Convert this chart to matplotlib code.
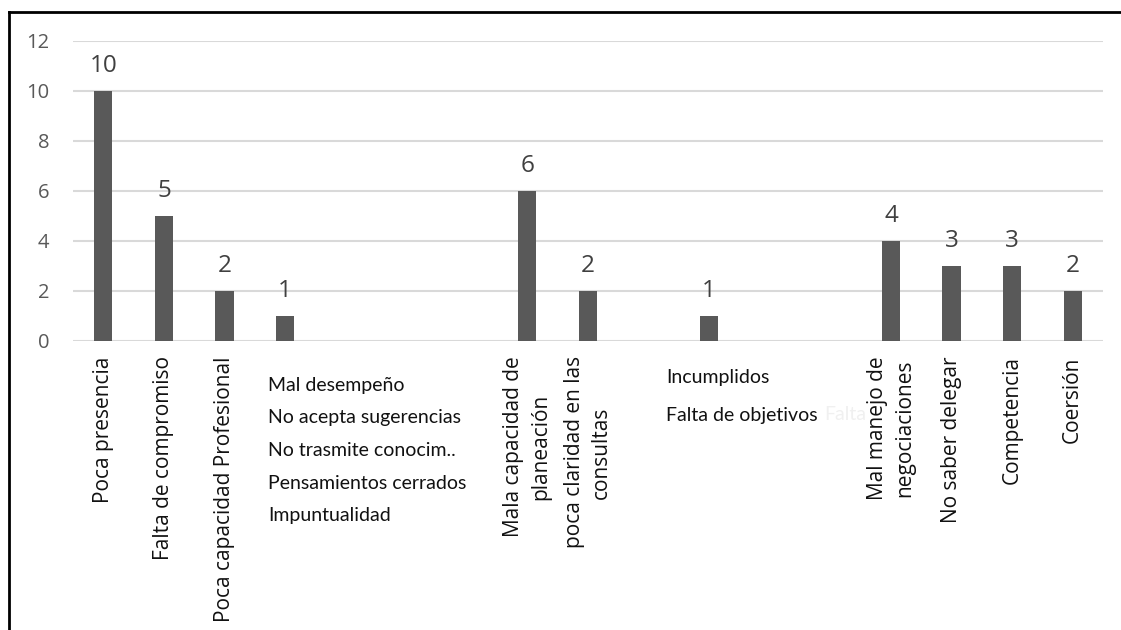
import matplotlib
matplotlib.use("Agg")
import matplotlib.pyplot as plt
from matplotlib.lines import Line2D
import numpy as np

# categorías del eje x (las vacías llevan su texto aparte, en horizontal)
categorias = ["Poca presencia", "Falta de compromiso", "Poca capacidad Profesional",
              "", "", "", "",
              "Mala capacidad de\nplaneación", "poca claridad en las\nconsultas",
              "", "", "", "",
              "Mal manejo de\nnegociaciones", "No saber delegar", "Competencia", "Coersión"]
valores = [10, 5, 2, 1, 0, 0, 0, 6, 2, 0, 1, 0, 0, 4, 3, 3, 2]
bloque_1 = ["Mal desempeño", "No acepta sugerencias", "No trasmite conocim..",
            "Pensamientos cerrados", "Impuntualidad"]
bloque_2 = ["Incumplidos", "Falta de objetivos"]
y_ticks = [0, 2, 4, 6, 8, 10, 12]

fuente = ["Open Sans", "DejaVu Sans"]
fuente_estrecha = ["Lato", "DejaVu Sans"]

fig = plt.figure(figsize=(11.21, 6.30), dpi=100)
ax = fig.add_axes([73 / 1121, 1 - 341 / 630, 1030 / 1121, 300.5 / 630])

x = np.arange(len(categorias))
ax.bar(x, valores, width=0.3, color="#595959", zorder=3)

for xi, v in zip(x, valores):
    if v > 0:
        ax.annotate(str(v), (xi, v), xytext=(0, 9), textcoords="offset points",
                    ha="center", va="bottom", fontsize=17.5, color="#404040",
                    family=fuente)

ax.set_xlim(-0.5, len(categorias) - 0.5)
ax.set_ylim(0, 12)
ax.set_yticks(y_ticks)
ax.set_yticklabels([str(t) for t in y_ticks], fontsize=14.5, color="#595959",
                   family=fuente)
ax.set_xticks(x)
ax.set_xticklabels(categorias, rotation=90, fontsize=15, color="#111111",
                   family=fuente, va="top", ha="center",
                   multialignment="center", linespacing=1.4)
ax.tick_params(axis="both", length=0)
ax.tick_params(axis="y", pad=17)
ax.tick_params(axis="x", pad=11)

ax.yaxis.grid(True, color="#d9d9d9", linewidth=1.5, zorder=0)
for s in ax.spines.values():
    s.set_visible(False)

# textos horizontales bajo las barras sin etiqueta propia
for i, t in enumerate(bloque_1):
    fig.text(268 / 1121, 1 - (385 + i * 32.7) / 630, t, fontsize=14,
             family=fuente_estrecha, color="#111111", va="center", ha="left")
for i, t in enumerate(bloque_2):
    fig.text(666 / 1121, 1 - (378 + i * 37) / 630, t, fontsize=14,
             family=fuente_estrecha, color="#111111", va="center", ha="left")
fig.text(824 / 1121, 1 - 415 / 630, "Falta", fontsize=14,
         family=fuente_estrecha, color="#f0f0f0", va="center", ha="left")

# marco exterior
fig.add_artist(Line2D([9 / 1121, 1.0], [1 - 11.5 / 630] * 2, color="black", lw=2,
                      transform=fig.transFigure))
fig.add_artist(Line2D([9 / 1121] * 2, [0.0, 1 - 11.5 / 630], color="black", lw=2,
                      transform=fig.transFigure))

fig.savefig("out.png", dpi=100, facecolor="white")
